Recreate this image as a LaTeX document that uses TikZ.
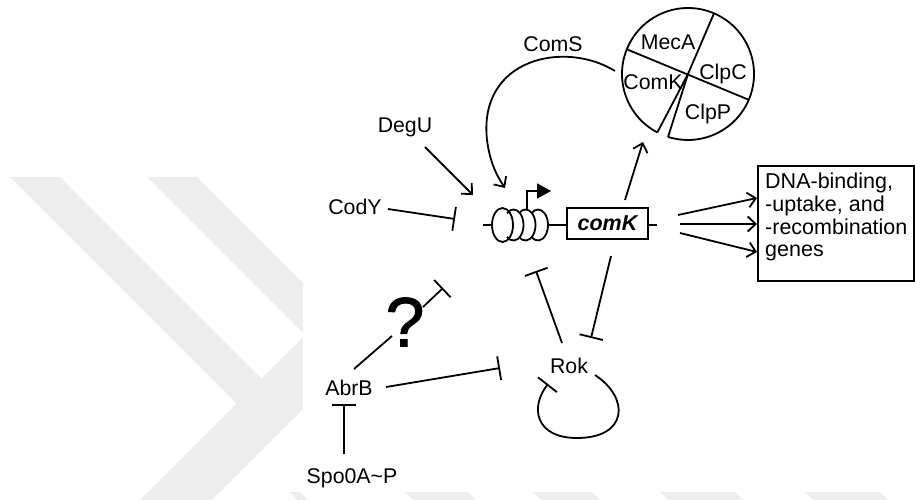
\documentclass[tikz,border=0pt]{standalone}
\usepackage{fontspec}
\setmainfont{Liberation Sans}
\newfontface\qmarkfont{Liberation Sans}[FakeBold=1.3]
\usetikzlibrary{arrows.meta,calc}
\begin{document}
\begin{tikzpicture}[x=1pt,y=-1pt,
  lbl/.style={font=\fontsize{21.3}{24}\selectfont, inner sep=0pt},
  wire/.style={line width=1.8pt},
  act/.style={wire, -{Straight Barb[length=8pt,width=15pt]}},
  inh/.style={wire, -{Bar[width=24pt]}},
  wm/.style={fill=black!7}]
\useasboundingbox (0,0) rectangle (915,500);

% faint chevron watermark behind the figure
\fill[wm] (10,177) -- (60,177) -- (297.5,414.5) -- (236.5,403.5) -- cycle;
\fill[wm] (147,177) -- (197,177) -- (366,346) -- (305,335) -- cycle;
\fill[wm] (305,335) -- (366,346) -- (212,500) -- (140,500) -- cycle;
\foreach \a/\b in {290/300, 405/468, 533/592, 660/735, 805/880}
  \fill[wm] (\a,492) -- (\b,492) -- (\b+8,500) -- (\a+8,500) -- cycle;

% figure panel
\fill[white] (303,0) rectangle (915,492);

% ---- protease complex ----
\coordinate (prot) at (688,74);
\draw[wire] (prot) ++(117.7:66) arc[start angle=117.7, end angle=467.6, radius=66];
\draw[wire] ($(prot)+(202:66)$) -- ($(prot)+(23:66)$);
\draw[wire] ($(prot)+(293.2:66)$) -- (prot) -- ($(prot)+(117.7:66)$);
\draw[wire] (prot) -- ($(prot)+(107.6:66)$);
\node[lbl] (meca) at (668,42) {MecA};
\node[lbl] (clpc) at (723,74) {ClpC};
\node[lbl] (comkp) at (653,82) {ComK};
\node[lbl] (clpp) at (708,114) {ClpP};

% ---- comK gene with its promoter coil ----
\coordinate (dnaL) at (483,225);
\draw[wire] (502.5,225) ellipse[x radius=10.5, y radius=17];
\foreach \c in {513.5,525.5,538}
  \draw[wire] ($(\c,225)+(130:10 and 15.5)$) arc[start angle=130, end angle=-130, x radius=10, y radius=15.5];
\draw[wire] (dnaL) -- (492,225);
\node[draw, wire, minimum width=81pt, minimum height=31pt, inner sep=0pt,
      font=\fontsize{21.5}{24}\selectfont\bfseries\itshape] (comk) at (607.5,223.5) {comK};
\draw[wire] (548,225) -- (comk.west |- 0,225);
\draw[wire] (comk.east |- 0,225) -- (657,225);
\coordinate (tss) at (527,209);
\draw[wire, -{Triangle[length=14pt,width=15pt]}] (tss) -- (527,191) -- (551,191);

% ---- regulators ----
\node[lbl] (coms) at (553,44) {ComS};
\node[lbl] (degu) at (405,127) {DegU};
\node[lbl] (cody) at (355,207) {CodY};
\node[lbl] (rok) at (569,366) {Rok};
\node[lbl] (abrb) at (349,388) {AbrB};
\node[lbl] (spo) at (352,478) {Spo0A\textasciitilde P};
\node[inner sep=0pt, font=\qmarkfont\fontsize{70}{74}\selectfont] (qm) at (405,322) {?};

% ---- output genes ----
\node[draw, wire, anchor=north west, minimum width=156pt, minimum height=115pt] (genes) at (757,165) {};
\node[lbl, anchor=north west, align=left, font=\fontsize{21.5}{22.7}\selectfont] (genestxt) at (765,173)
  {DNA-binding,\\-uptake, and\\-recombination\\genes};

% ---- connectors ----
\draw[wire, -{Straight Barb[length=8pt,width=15pt]}] (615,71)
  .. controls (565,40) and (478,58) .. (487,140)
  .. controls (490,163) and (497,176) .. (505,188);
\draw[act] (425,147) -- (473,195);
\draw[inh] (388,209) -- (455,219);
\draw[act] (625,200) -- (643,142);
\draw[act] (678,215) -- (genes.west |- 0,198);
\draw[act] (680,224) -- (genes.west |- 0,224);
\draw[act] (680,233) -- (genes.west |- 0,252);
\draw[inh] (562,343) -- (536,271);
\draw[inh] (611,256) -- (591,338);
\draw[inh] (595,375) .. controls (630,398) and (628,438) .. (577,438)
  .. controls (535,438) and (530,407) .. (548,384);
\draw[inh] (386,387) -- (500,368);
\draw[wire] (354,369) -- (392,336);
\draw[inh] (423,307) -- (443,288);
\draw[inh] (344,454) -- (344,404);
\end{tikzpicture}
\end{document}
